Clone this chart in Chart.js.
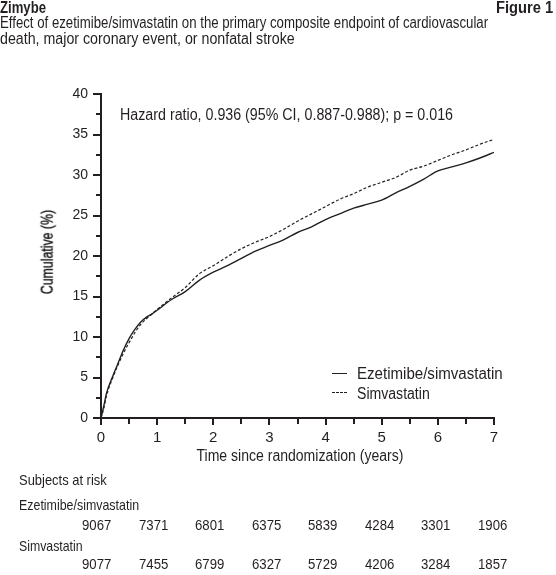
<!DOCTYPE html>
<html><head><meta charset="utf-8">
<script src="https://cdn.jsdelivr.net/npm/chart.js@4/dist/chart.umd.min.js"></script>
<style>
html,body{margin:0;padding:0;background:#fff;}
body{width:556px;height:575px;position:relative;overflow:hidden;font-family:"Liberation Sans",Arial,sans-serif;color:#231f20;}
#wrap{position:absolute;left:0;top:0;width:556px;height:575px;}
.t{position:absolute;white-space:nowrap;font-size:15px;line-height:15px;}
.b{font-weight:bold;}
.ln{position:absolute;height:0;}
.vt{-webkit-text-stroke:0.35px #231f20;color:#000;}
</style></head><body>
<div id="wrap"><canvas id="c" width="556" height="575"></canvas></div>
<div id="txt"></div>
<script>
// ---- data ----
const years = [0,0.05,0.1,0.2,0.3,0.4,0.5,0.6,0.7,0.8,0.9,1.0,1.25,1.5,1.75,2.0,2.25,2.5,2.75,3.0,3.25,3.5,3.75,4.0,4.25,4.5,4.75,5.0,5.25,5.5,5.75,6.0,6.25,6.5,6.75,7.0];
const ezeValues = [0,1.5,3.1,5.0,6.7,8.4,9.8,10.9,11.8,12.4,12.8,13.3,14.6,15.6,17.0,18.0,18.8,19.7,20.6,21.3,22.0,22.9,23.6,24.5,25.2,25.9,26.4,26.9,27.8,28.6,29.5,30.5,31.0,31.5,32.1,32.8];
const simValues = [0,1.2,2.8,4.8,6.5,8.0,9.3,10.5,11.5,12.2,12.8,13.4,14.8,16.1,17.8,18.8,19.9,20.9,21.7,22.4,23.3,24.3,25.2,26.1,27.0,27.7,28.5,29.1,29.7,30.6,31.1,31.8,32.5,33.1,33.8,34.4];
const seriesNames = ["Ezetimibe/simvastatin","Simvastatin"];
const riskEze = [9067,7371,6801,6375,5839,4284,3301,1906];
const riskSim = [9077,7455,6799,6327,5729,4206,3284,1857];
const xTickValues = [0,1,2,3,4,5,6,7];
const yTickValues = [0,5,10,15,20,25,30,35,40];
const brand = "Zimybe";
const figLabel = "Figure 1";
const titleLines = ["Effect of ezetimibe/simvastatin on the primary composite endpoint of cardiovascular","death, major coronary event, or nonfatal stroke"];
const hazardText = "Hazard ratio, 0.936 (95% CI, 0.887-0.988); p = 0.016";
const yTitle = "Cumulative (%)";
const xTitle = "Time since randomization (years)";
const riskTitle = "Subjects at risk";

const INK = '#231f20';
const FONT = '"Liberation Sans",Arial,sans-serif';

// ---- html texts (condensed by fitting each to its width in the figure) ----
const txt = document.getElementById('txt');
function addText(s, x, top, size, width, opts){
  opts = opts || {};
  const d = document.createElement('div');
  d.className = 't' + (opts.bold ? ' b' : '') + (opts.align === 'vertical' ? ' vt' : '');
  d.textContent = s;
  d.style.fontSize = size + 'px';
  d.style.lineHeight = size + 'px';
  d.style.top = top + 'px';
  txt.appendChild(d);
  const sx = width / d.scrollWidth;
  const align = opts.align || 'left';
  if (align === 'left') { d.style.left = x + 'px'; d.style.transformOrigin = 'left top'; d.style.transform = 'scaleX(' + sx + ')'; }
  else if (align === 'right') { d.style.right = (556 - x) + 'px'; d.style.transformOrigin = 'right top'; d.style.transform = 'scaleX(' + sx + ')'; }
  else if (align === 'center') { d.style.left = (x - d.scrollWidth/2) + 'px'; d.style.transformOrigin = 'center top'; d.style.transform = 'scaleX(' + sx + ')'; }
  else if (align === 'vertical') { d.style.left = Math.round(x - d.scrollWidth/2) + 'px'; d.style.top = Math.round(top - size/2) + 'px'; d.style.transformOrigin = 'center center'; d.style.transform = 'rotate(-90deg) scaleX(' + sx + ')'; }
  return d;
}
addText(brand, 0, 0, 16, 46, {bold:true});
addText(figLabel, 553, 0, 16, 57, {bold:true, align:'right'});
addText(titleLines[0], 0, 15, 16, 488);
addText(titleLines[1], 0, 31, 16, 295);
addText(hazardText, 120, 107, 16, 333);
addText(seriesNames[0], 357, 366, 16, 146);
addText(seriesNames[1], 357, 386, 16, 73);
addText(riskTitle, 19, 472, 15, 88);
addText(seriesNames[0], 19, 497, 15, 120);
addText(seriesNames[1], 19, 538, 15, 64);
riskEze.forEach((v,i)=>addText(String(v), 82 + i*56.5, 517, 15, 29));
riskSim.forEach((v,i)=>addText(String(v), 82 + i*56.5, 556, 15, 29));
addText(xTitle, 299.7, 448, 16, 207, {align:'center'});
addText(yTitle, 47, 252, 16, 84, {align:'vertical'});
// legend samples
function addLine(left, top, width, style){
  const d = document.createElement('div');
  d.className = 'ln';
  Object.assign(d.style, {left:left+'px', top:top+'px', width:width+'px', borderTop:'1.5px '+style+' '+INK});
  txt.appendChild(d);
}
addLine(332, 373, 15, 'solid');
addLine(332, 392, 15, 'dashed');

// ---- chart ----
const tickMarks = {
  id: 'tickMarks',
  afterDraw(chart){
    const {ctx, scales:{x, y}} = chart;
    ctx.save();
    ctx.strokeStyle = INK; ctx.lineWidth = 2; ctx.lineCap = 'butt';
    for (let v = x.min; v <= x.max + 1e-9; v += 0.5) {
      const px = Math.round(x.getPixelForValue(v));
      const len = Math.abs(v - Math.round(v)) < 1e-9 ? 7 : 6;
      ctx.beginPath(); ctx.moveTo(px, y.bottom); ctx.lineTo(px, y.bottom + len); ctx.stroke();
    }
    for (let v = y.min; v <= y.max + 1e-9; v += 2.5) {
      const py = Math.round(y.getPixelForValue(v));
      const len = Math.abs(v/5 - Math.round(v/5)) < 1e-9 ? 8 : 5;
      ctx.beginPath(); ctx.moveTo(x.left, py); ctx.lineTo(x.left - len, py); ctx.stroke();
    }
    ctx.restore();
  }
};

new Chart(document.getElementById('c'), {
  type: 'line',
  data: {
    datasets: [
      { label: seriesNames[0], data: years.map((t,i)=>({x:t, y:ezeValues[i]})), borderColor: INK, borderWidth: 1.4, pointRadius: 0, fill: false, tension: 0, cubicInterpolationMode: 'monotone' },
      { label: seriesNames[1], data: years.map((t,i)=>({x:t, y:simValues[i]})), borderColor: INK, borderWidth: 1.2, borderDash: [3,2], pointRadius: 0, fill: false, tension: 0, cubicInterpolationMode: 'monotone' }
    ]
  },
  options: {
    responsive: false, animation: false, devicePixelRatio: 1,
    layout: { padding: { top: 94, right: 62, left: 0, bottom: 95 } },
    plugins: { legend: { display: false }, tooltip: { enabled: false } },
    scales: {
      x: {
        type: 'linear', min: 0, max: 7,
        afterFit(s){ s.height = 62; },
        afterBuildTicks(s){ s.ticks = xTickValues.map(v=>({value:v})); },
        grid: { display: false, drawTicks: false },
        border: { display: true, color: INK, width: 2 },
        ticks: { color: INK, padding: 11, font: { family: FONT, size: 15 }, maxRotation: 0 },
        title: { display: false, text: xTitle }
      },
      y: {
        type: 'linear', min: 0, max: 40,
        afterFit(s){ s.width = 101; },
        afterBuildTicks(s){ s.ticks = yTickValues.map(v=>({value:v})); },
        grid: { display: false, drawTicks: false },
        border: { display: true, color: INK, width: 2 },
        ticks: { color: INK, padding: 13, font: { family: FONT, size: 14 } },
        title: { display: false, text: yTitle }
      }
    }
  },
  plugins: [tickMarks]
});
</script>
</body></html>
